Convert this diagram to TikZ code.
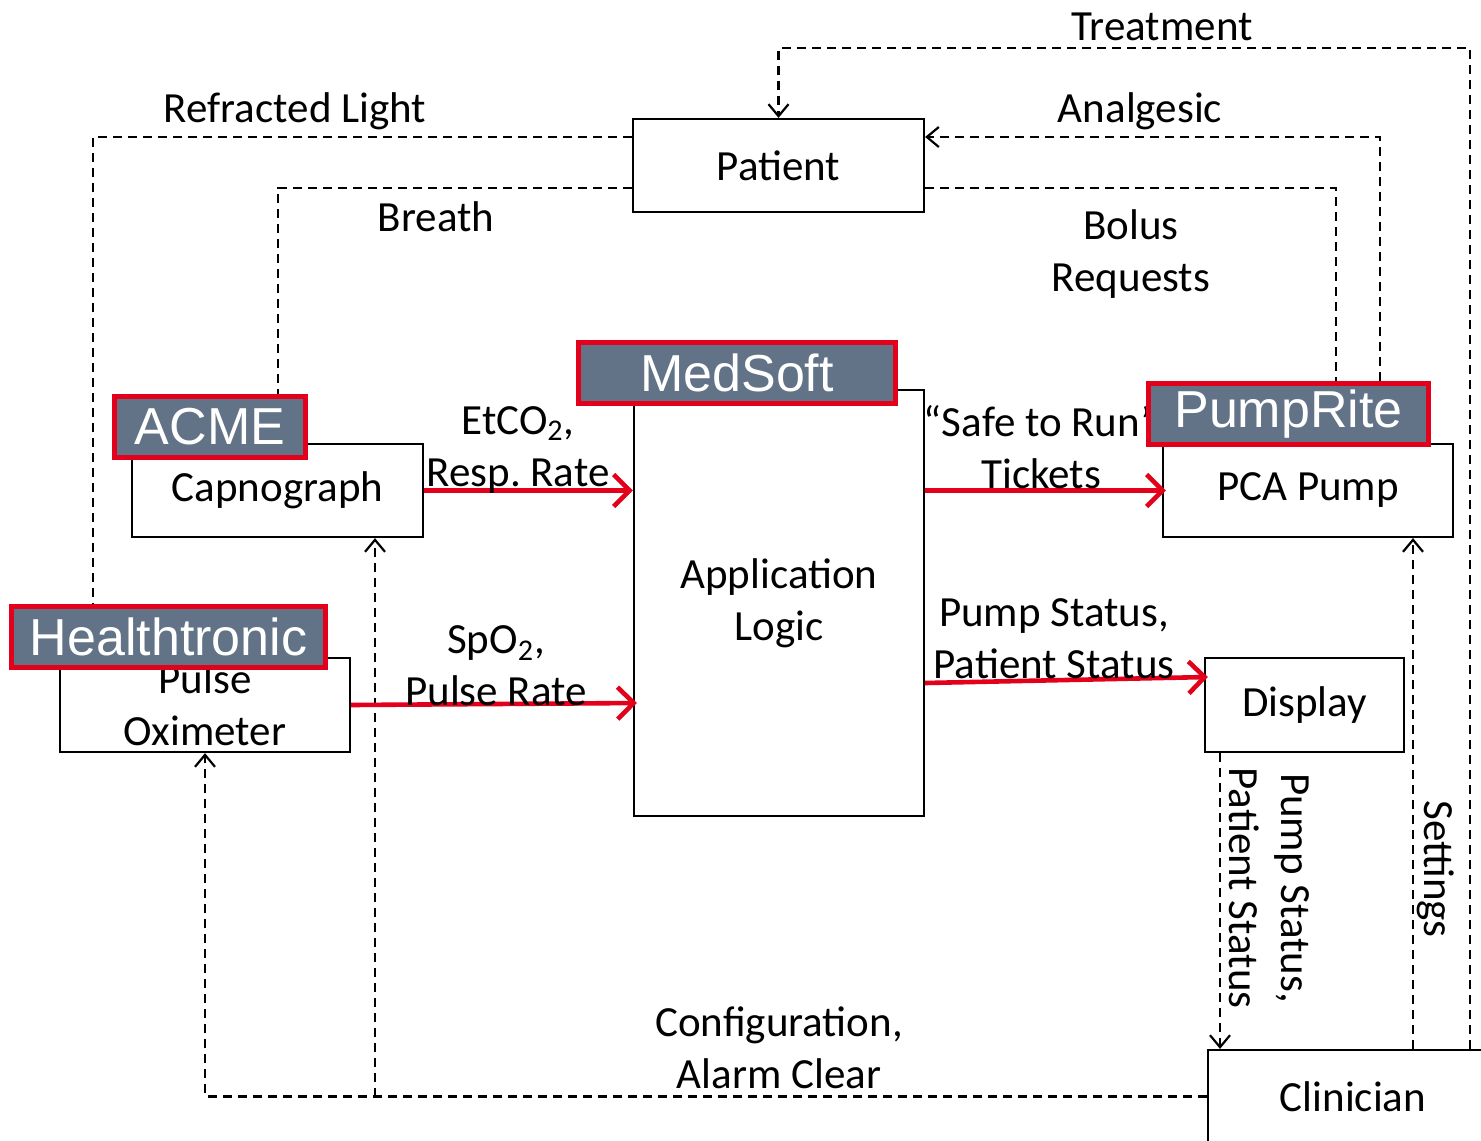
\documentclass[tikz,border=0pt]{standalone}
\usepackage{fontspec}
\setmainfont{Carlito}
\newfontfamily\brandfont{Liberation Sans}
\usetikzlibrary{arrows.meta,calc}
\definecolor{slate}{HTML}{637387}
\definecolor{alertred}{HTML}{E2001A}
\frenchspacing
\begin{document}
\begin{tikzpicture}[x=0.5pt,y=-0.5pt,
  box/.style={draw,line width=1.1pt,fill=white,inner sep=0pt,align=center,
    font=\fontsize{21.5}{26}\selectfont},
  brand/.style={draw=alertred,line width=2.5pt,fill=slate,text=white,inner sep=0pt,
    minimum height=30.5pt,font=\brandfont\fontsize{26}{30}\selectfont},
  dashln/.style={line width=1.1pt,dash pattern=on 4.5pt off 3pt},
  opentip/.style={-{Straight Barb[length=6pt,width=10pt]}},
  redarrow/.style={draw=alertred,line width=2.3pt,-{Straight Barb[length=8pt,width=16pt]}},
  lbl/.style={align=center,inner sep=0pt,yshift=-1.5pt,font=\fontsize{21.5}{26}\selectfont}]

\useasboundingbox (0,0) rectangle (1481,1140);

% --- components ---
\node[box,minimum width=145.5pt,minimum height=46.5pt] (pat) at (778.5,165.5) {Patient};
\node[box,minimum width=145.5pt,minimum height=46.5pt] (cap) at (277.5,490.5) {Capnograph};
\node[box,minimum width=145pt,minimum height=47pt] (pox) at (205,705) {Pulse\\Oximeter};
\node[box,minimum width=145pt,minimum height=213pt] (app) at (779,603) {Application\\Logic};
\node[box,minimum width=145pt,minimum height=46.5pt] (pca) at (1308,490.5) {PCA Pump};
\node[box,minimum width=99.5pt,minimum height=47pt] (disp) at (1304.5,705) {Display};
\node[box,minimum width=145pt,minimum height=46.5pt] (clin) at (1353,1096.5) {Clinician};

% --- turning points of the dashed physical / clinician links ---
\coordinate (treat) at (1470,48);
\coordinate (refl) at (93,137);
\coordinate (brth) at (278,188);
\coordinate (anal) at (1380,137);
\coordinate (bolus) at (1336,188);
\coordinate (cfgA) at (205,1096.5);
\coordinate (cfgB) at (375,1096.5);
\coordinate (stat) at (1220,0);
\coordinate (sett) at (1413,0);

% --- brand tag positions (anchors used by the dashed links) ---
\path (210,427) coordinate (acmeC) (168.5,637) coordinate (healthC)
      (737,373) coordinate (medC) (1288.5,414) coordinate (pumpC);
\coordinate (acmeTop) at (210,394);
\coordinate (healthTop) at (168.5,604);
\coordinate (pumpTop) at (1288.5,381);

% --- dashed links ---
\draw[dashln,opentip] (treat |- clin.north) -- (treat) -- (treat -| pat.north) -- (pat.north);
\draw[dashln] (refl -| pat.west) -- (refl) -- (refl |- healthTop);
\draw[dashln] (brth -| pat.west) -- (brth) -- (brth |- acmeTop);
\draw[dashln,opentip] (anal |- pumpTop) -- (anal) -- (anal -| pat.east);
\draw[dashln] (bolus -| pat.east) -- (bolus) -- (bolus |- pumpTop);
\draw[dashln,opentip] (clin.west) -- (cfgA) -- (pox.south);
\draw[dashln,opentip] (cfgB) -- (cfgB |- cap.south);
\draw[dashln,opentip] (stat |- disp.south) -- (stat |- clin.north);
\draw[dashln,opentip] (sett |- clin.north) -- (sett |- pca.south);

% --- data flows ---
\draw[redarrow] (cap.east) -- (cap.east -| app.west);
\draw[redarrow] (pox.east) -- ($(pox.east -| app.west)+(4,-2)$);
\draw[redarrow] (app.east |- pca.west) -- ($(pca.west)+(4,0)$);
\draw[redarrow] ($(app.east)+(0,80)$) -- ($(disp.west)+(4,-28)$);

% --- labels ---
\node[lbl] (lTreat) at (1162,24) {Treatment};
\node[lbl] (lRefl) at (295,108) {Refracted Light};
\node[lbl] (lBreath) at (436,214) {Breath};
\node[lbl] (lAnal) at (1140,108) {Analgesic};
\node[lbl] (lBolus) at (1131,251) {Bolus\\Requests};
\node[lbl] (lEt) at (518,447) {EtCO\textsubscript{2},\\Resp. Rate};
\node[lbl] (lSp) at (496,663) {SpO\textsubscript{2},\\Pulse Rate};
\node[lbl] (lSafe) at (1041,444) {“Safe to Run”\\Tickets};
\node[lbl] (lPump) at (1054,636) {Pump Status,\\Patient Status};
\node[lbl] (lCfg) at (779,1045) {Configuration,\\Alarm Clear};
\node[lbl,rotate=-90,yshift=1.5pt] (lPumpV) at (1266,885) {Pump Status,\\Patient Status};
\node[lbl,rotate=-90,yshift=1.5pt] (lSet) at (1433,866) {Settings};

% --- vendor tags on top ---
\node[brand,minimum width=95.5pt] (acme) at (acmeC) {ACME};
\node[brand,minimum width=157pt] (health) at (healthC) {Healthtronic};
\node[brand,minimum width=158.5pt] (med) at (medC) {MedSoft};
\node[brand,minimum width=140pt] (pump) at (pumpC) {PumpRite};

\end{tikzpicture}
\end{document}
